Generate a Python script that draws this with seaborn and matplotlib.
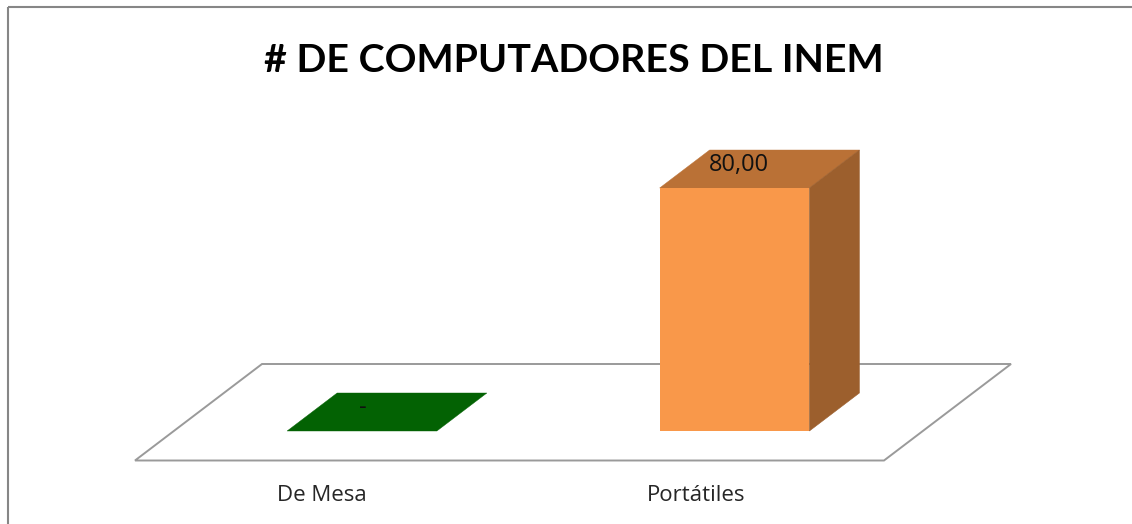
import matplotlib
matplotlib.use("Agg")
import matplotlib.pyplot as plt
from matplotlib.lines import Line2D
from matplotlib.patches import Polygon
import seaborn as sns

categories = ["De Mesa", "Portátiles"]
values = [0, 80]
title = "# DE COMPUTADORES DEL INEM"

W, H = 1132, 524
FRONT = {"De Mesa": "#036203", "Portátiles": "#F9984A"}
TOP = {"De Mesa": "#036203", "Portátiles": "#BA7136"}
SIDE = {"De Mesa": "#036203", "Portátiles": "#9C5F2D"}
LABEL_SHIFT_PX = [-40, -38]

sns.set_theme(style="white")
plt.rcParams["font.family"] = ["Open Sans", "DejaVu Sans"]

fig = plt.figure(figsize=(W / 100, H / 100), dpi=100, facecolor="white")
ax_top, ax_bottom = 100, 460.5
ax = fig.add_axes([0, 1 - ax_bottom / H, 1, (ax_bottom - ax_top) / H])

# scale: category spacing and value scale of the plot
px_x = 372.5
px_y = 243 / 80
x0_px, y0_px = 362, 431

sns.barplot(x=categories, y=values, hue=categories, palette=FRONT, width=0.402,
            saturation=1, legend=False, dodge=False, ax=ax, zorder=3, linewidth=0)

ax.set_xlim(-x0_px / px_x, (W - x0_px) / px_x)
ax.set_ylim((y0_px - ax_bottom) / px_y, (y0_px - ax_top) / px_y)

# depth of the 3D look, in data units
dx, dy = 50 / px_x, 38 / px_y

# floor
fdx, fdy = 127 / px_x, 96.5 / px_y
fl, fr = (135 - x0_px) / px_x, (884 - x0_px) / px_x
fy = ax.get_ylim()[0]
ax.add_patch(Polygon([(fl, fy), (fr, fy), (fr + fdx, fy + fdy), (fl + fdx, fy + fdy)],
                     closed=True, fc="white", ec="#9A9A9A", lw=1.4, zorder=1,
                     clip_on=False, joinstyle="miter"))

# extruded faces, from the bars the library drew
for cat, val, bar in zip(categories, values, ax.patches):
    x, w, h = bar.get_x(), bar.get_width(), bar.get_height()
    ax.add_patch(Polygon([(x, h), (x + w, h), (x + w + dx, h + dy), (x + dx, h + dy)],
                         closed=True, fc=TOP[cat], ec=TOP[cat], lw=0.3, zorder=2.5))
    if h > 0:
        ax.add_patch(Polygon([(x + w, 0), (x + w + dx, dy), (x + w + dx, h + dy), (x + w, h)],
                             closed=True, fc=SIDE[cat], ec=SIDE[cat], lw=0.4, zorder=2.5))
    label = "-" if val == 0 else f"{val:.2f}".replace(".", ",")
    off = 1 if val == 0 else 4
    ax.text(x + w / 2 + off / px_x, h + 23.5 / px_y, label, ha="center", va="center",
            fontsize=17, color="#111111", zorder=5)

# axis labels
ax.set_xticks([i + s / px_x for i, s in enumerate(LABEL_SHIFT_PX)], categories)
ax.tick_params(axis="x", length=0, pad=17.5, labelsize=16, labelcolor="#262626")
ax.set_yticks([])
ax.set_xlabel("")
ax.set_ylabel("")
sns.despine(ax=ax, left=True, bottom=True, top=True, right=True)
ax.patch.set_alpha(0)

# title
fig.text(574 / W, 1 - 60 / H, title, ha="center", va="center", fontsize=28.4,
         fontweight="bold", color="black", family=["Lato", "DejaVu Sans"])

# chart frame
frame = dict(color="#868686", lw=1.5, transform=fig.transFigure, solid_capstyle="butt")
fig.add_artist(Line2D([8 / W, 8 / W], [0, 1 - 6.5 / H], **frame))
fig.add_artist(Line2D([8 / W, 1], [1 - 6.5 / H, 1 - 6.5 / H], **frame))

fig.savefig("out.png", dpi=100, facecolor="white")
